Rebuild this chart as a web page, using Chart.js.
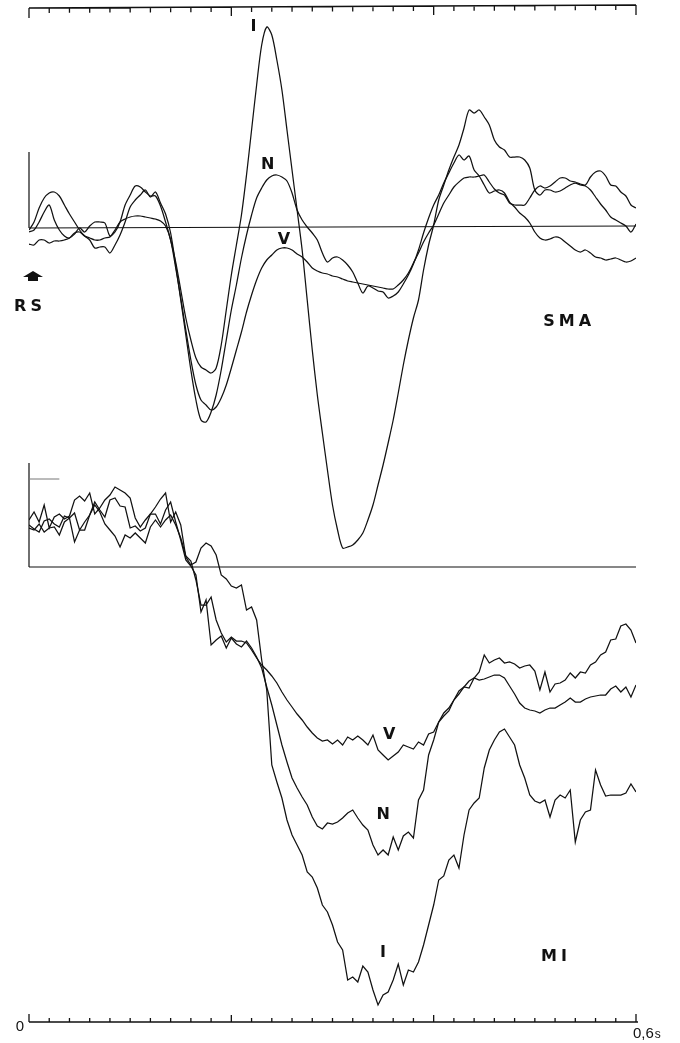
<!DOCTYPE html>
<html>
<head>
<meta charset="utf-8">
<script src="https://cdn.jsdelivr.net/npm/chart.js@4/dist/chart.umd.min.js"></script>
<style>
  html, body { margin: 0; padding: 0; background: #fff; }
  canvas { display: block; }
</style>
</head>
<body>
<canvas id="c" width="680" height="1043" style="width:680px;height:1043px"></canvas>
<script>
// Averaged potentials, 0 to 0.6 s after the response signal (RS), sampled every 5 ms.
// Amplitudes are in arbitrary units relative to each panel's baseline (up = positive).
const SAMPLE_STEP = 0.005;
const timeS = Array.from({ length: 121 }, (_, i) => +(i * SAMPLE_STEP).toFixed(3));

// Supplementary motor area (SMA)
const smaI = [
  -4,-2,6,16,23,8,-2,-8,-10,-6,
  0,-4,2,6,6,5,-8,-4,6,23,
  33,42,41,36,32,32,22,6,-12,-34,
  -62,-90,-112,-130,-139,-142,-145,-140,-117,-82,
  -47,-17,13,53,98,143,183,201,193,168,
  138,98,58,18,-22,-72,-122,-167,-205,-242,
  -277,-302,-320,-319,-317,-312,-305,-292,-277,-257,
  -237,-215,-192,-165,-137,-112,-90,-72,-42,-17,
  3,28,43,58,71,83,100,118,115,118,
  111,103,88,81,78,71,71,71,68,60,
  38,33,38,38,36,37,40,43,45,43,
  42,38,31,24,18,11,8,5,2,-4,
  4
];
const smaN = [
  -2,6,20,30,35,36,32,23,14,6,
  -2,-8,-12,-20,-19,-19,-25,-17,-7,6,
  21,28,33,38,31,36,25,14,-5,-37,
  -72,-107,-142,-172,-192,-194,-184,-167,-142,-112,
  -82,-57,-30,-7,13,30,40,48,52,53,
  51,47,35,18,8,1,-5,-12,-25,-34,
  -30,-29,-32,-37,-44,-55,-65,-58,-60,-63,
  -64,-70,-68,-64,-56,-47,-36,-22,-5,10,
  23,33,45,55,65,73,68,72,58,52,
  43,35,37,38,35,26,21,15,11,5,
  -4,-10,-12,-11,-9,-10,-14,-18,-22,-24,
  -22,-25,-29,-30,-32,-31,-30,-32,-34,-33,
  -30
];
const smaV = [
  -16,-17,-12,-12,-15,-13,-13,-12,-10,-5,
  -4,-8,-10,-12,-12,-10,-9,-2,6,9,
  11,12,12,11,10,9,7,2,-12,-40,
  -70,-102,-132,-157,-172,-177,-182,-179,-170,-157,
  -140,-122,-104,-84,-67,-52,-40,-32,-27,-22,
  -20,-20,-22,-26,-29,-34,-40,-43,-45,-46,
  -48,-49,-51,-53,-54,-55,-56,-57,-58,-59,
  -60,-61,-61,-57,-52,-45,-35,-25,-14,-5,
  3,14,25,33,41,46,50,51,51,52,
  53,46,39,35,33,25,23,23,23,30,
  38,42,40,42,46,50,50,47,46,44,
  43,51,56,57,52,43,42,36,32,23,
  20
];

// Primary motor cortex (MI)
const miI = [
  47,55,45,62,39,50,53,48,51,67,
  71,66,74,53,59,67,72,80,77,74,
  69,49,40,47,53,60,68,74,45,55,
  42,10,2,5,19,24,21,12,-8,-12,
  -19,-21,-18,-43,-40,-53,-93,-123,-198,-215,
  -231,-253,-268,-278,-288,-305,-310,-321,-338,-345,
  -358,-375,-383,-413,-410,-415,-399,-405,-423,-438,
  -428,-425,-413,-397,-418,-403,-405,-395,-378,-358,
  -338,-313,-309,-293,-288,-301,-268,-243,-236,-231,
  -201,-183,-173,-165,-162,-170,-178,-198,-211,-228,
  -234,-236,-233,-250,-233,-228,-231,-223,-275,-253,
  -245,-243,-203,-218,-229,-228,-228,-228,-226,-217,
  -225
];
const miN = [
  42,38,35,46,48,43,40,51,49,54,
  37,45,52,65,57,50,67,69,61,60,
  39,41,36,39,53,53,43,57,65,45,
  27,7,1,-8,-45,-33,-78,-73,-69,-81,
  -71,-77,-80,-74,-81,-90,-101,-120,-138,-158,
  -178,-195,-211,-221,-230,-238,-250,-259,-262,-256,
  -257,-255,-251,-246,-243,-251,-258,-263,-278,-288,
  -283,-288,-270,-283,-269,-265,-271,-233,-223,-188,
  -173,-155,-146,-141,-133,-124,-120,-121,-111,-105,
  -88,-96,-93,-91,-96,-95,-97,-101,-99,-98,
  -104,-123,-105,-125,-117,-116,-113,-106,-111,-105,
  -106,-98,-95,-88,-85,-73,-72,-59,-57,-63,
  -76
];
const miV = [
  39,37,43,35,39,40,32,45,49,25,
  37,37,52,62,55,43,37,31,20,32,
  29,34,29,24,40,47,40,47,52,42,
  29,11,6,-13,-38,-38,-30,-53,-66,-75,
  -70,-74,-74,-76,-83,-91,-98,-103,-109,-116,
  -125,-133,-140,-147,-153,-160,-166,-171,-174,-173,
  -177,-173,-178,-170,-173,-169,-173,-178,-168,-183,
  -188,-193,-189,-185,-178,-180,-182,-175,-178,-167,
  -165,-155,-149,-144,-133,-127,-120,-114,-111,-113,
  -112,-110,-108,-108,-111,-119,-127,-136,-141,-143,
  -144,-146,-143,-141,-141,-138,-135,-131,-135,-135,
  -132,-130,-129,-128,-128,-122,-119,-125,-120,-130,
  -118
];

// Time ruler: minor ticks every 20 ms, labelled ends
const tickStep = 0.02;
const majorTicks = [0.2, 0.4];
const axisLabels = { start: '0', end: '0,6', unit: 's' };

// Calibration bars (height in amplitude units)
const smaCalibration = 76;
const miCalibration = 104;
const miCalibrationMark = 88;

// Text placed in data coordinates of each panel
const smaText = [
  { t: 0.222, v: 201, text: 'I' },
  { t: 0.236, v: 63, text: 'N' },
  { t: 0.252, v: -12, text: 'V' },
  { t: 0.532, v: -94, text: 'SMA' },
  { t: -0.001, v: -79, text: 'RS' }
];
const miText = [
  { t: 0.356, v: -168, text: 'V' },
  { t: 0.350, v: -248, text: 'N' },
  { t: 0.350, v: -386, text: 'I' },
  { t: 0.519, v: -390, text: 'MI' }
];

const pts = arr => arr.map((v, i) => ({ x: timeS[i], y: v }));
const INK = '#111';
const LABEL_FONT = 'bold 16px "DejaVu Sans", "Liberation Sans", sans-serif';

function trace(label, values, axis, tension) {
  return {
    label, data: pts(values), yAxisID: axis,
    borderColor: INK, borderWidth: 1.25, pointRadius: 0,
    tension: tension, fill: false
  };
}

const decorations = {
  id: 'decorations',
  beforeDatasetsDraw(chart) {
    const { ctx, chartArea: a, scales } = chart;
    const x = scales.x, ys = scales.ySMA, ym = scales.yMI;
    ctx.save();
    ctx.strokeStyle = INK;
    ctx.lineWidth = 1.3;
    ctx.lineCap = 'butt';
    const nTicks = Math.round(0.6 / tickStep);

    // top ruler (ticks hang downward)
    const topY0 = a.top, topY1 = a.top - 3;
    ctx.beginPath();
    ctx.moveTo(x.getPixelForValue(0), topY0);
    ctx.lineTo(x.getPixelForValue(0.6), topY1);
    for (let k = 0; k <= nTicks; k++) {
      const t = k * tickStep;
      const px = x.getPixelForValue(t);
      const py = topY0 + (topY1 - topY0) * (t / 0.6);
      const isEnd = k === 0 || k === nTicks;
      const isMajor = majorTicks.some(m => Math.abs(m - t) < 1e-6);
      const len = isEnd ? 10 : isMajor ? 9 : 5;
      ctx.moveTo(px, py);
      ctx.lineTo(px, py + len);
    }
    ctx.stroke();

    // bottom ruler (ticks rise upward)
    const botY = a.bottom;
    ctx.beginPath();
    ctx.moveTo(x.getPixelForValue(0), botY);
    ctx.lineTo(x.getPixelForValue(0.6) + 2, botY);
    for (let k = 0; k <= nTicks; k++) {
      const t = k * tickStep;
      const px = x.getPixelForValue(t);
      const isEnd = k === 0 || k === nTicks;
      const isMajor = majorTicks.some(m => Math.abs(m - t) < 1e-6);
      const len = isEnd ? 8 : isMajor ? 7 : 4;
      ctx.moveTo(px, botY);
      ctx.lineTo(px, botY - len);
    }
    ctx.stroke();

    // baselines and calibration bars
    ctx.lineWidth = 1.2;
    ctx.beginPath();
    ctx.moveTo(x.getPixelForValue(0), ys.getPixelForValue(0));
    ctx.lineTo(x.getPixelForValue(0.6), ys.getPixelForValue(0) - 2);
    ctx.moveTo(x.getPixelForValue(0), ys.getPixelForValue(0));
    ctx.lineTo(x.getPixelForValue(0), ys.getPixelForValue(smaCalibration));
    ctx.moveTo(x.getPixelForValue(0), ym.getPixelForValue(0));
    ctx.lineTo(x.getPixelForValue(0.6), ym.getPixelForValue(0));
    ctx.moveTo(x.getPixelForValue(0), ym.getPixelForValue(0));
    ctx.lineTo(x.getPixelForValue(0), ym.getPixelForValue(miCalibration));
    ctx.stroke();
    ctx.strokeStyle = '#777';
    ctx.lineWidth = 1;
    ctx.beginPath();
    ctx.moveTo(x.getPixelForValue(0), ym.getPixelForValue(miCalibrationMark));
    ctx.lineTo(x.getPixelForValue(0.03), ym.getPixelForValue(miCalibrationMark));
    ctx.stroke();
    ctx.restore();
  },
  afterDatasetsDraw(chart) {
    const { ctx, chartArea: a, scales } = chart;
    const x = scales.x, ys = scales.ySMA, ym = scales.yMI;
    ctx.save();
    ctx.fillStyle = INK;
    ctx.textAlign = 'center';
    ctx.textBaseline = 'middle';
    ctx.font = LABEL_FONT;
    const draw = (items, yScale) => items.forEach(o => {
      const spaced = o.text.length > 1;
      ctx.letterSpacing = spaced ? '4px' : '0px';
      const px = x.getPixelForValue(o.t);
      ctx.fillText(o.text, px + (spaced ? 2 : 0), yScale.getPixelForValue(o.v));
    });
    draw(smaText, ys);
    draw(miText, ym);
    ctx.letterSpacing = '0px';

    // response-signal marker above "RS"
    const ax = 33, ay = ys.getPixelForValue(-48);
    ctx.beginPath();
    ctx.moveTo(ax, ay - 5);
    ctx.lineTo(ax + 10, ay + 1);
    ctx.lineTo(ax + 5, ay + 1);
    ctx.lineTo(ax + 5, ay + 5);
    ctx.lineTo(ax - 5, ay + 5);
    ctx.lineTo(ax - 5, ay + 1);
    ctx.lineTo(ax - 10, ay + 1);
    ctx.closePath();
    ctx.fill();

    // time ruler labels
    ctx.font = '15px "Liberation Sans", Arial, sans-serif';
    ctx.textAlign = 'right';
    ctx.fillText(axisLabels.start, x.getPixelForValue(0) - 5, a.bottom + 5);
    ctx.textAlign = 'left';
    const ex = x.getPixelForValue(0.6) - 3, ey = a.bottom + 12;
    ctx.fillText(axisLabels.end, ex, ey);
    const w = ctx.measureText(axisLabels.end).width;
    ctx.font = '12px "Liberation Sans", Arial, sans-serif';
    ctx.fillText(axisLabels.unit, ex + w + 1, ey + 1);
    ctx.restore();
  }
};

new Chart(document.getElementById('c'), {
  type: 'line',
  data: {
    datasets: [
      trace('SMA I', smaI, 'ySMA', 0.3),
      trace('SMA N', smaN, 'ySMA', 0.3),
      trace('SMA V', smaV, 'ySMA', 0.3),
      trace('MI I', miI, 'yMI', 0),
      trace('MI N', miN, 'yMI', 0),
      trace('MI V', miV, 'yMI', 0)
    ]
  },
  options: {
    responsive: false,
    animation: false,
    events: [],
    layout: { padding: { left: 29, right: 44, top: 8, bottom: 21 } },
    plugins: { legend: { display: false }, tooltip: { enabled: false } },
    scales: {
      x: { type: 'linear', min: 0, max: 0.6, display: false },
      ySMA: { type: 'linear', min: -794, max: 220, display: false },
      yMI: { type: 'linear', min: -455, max: 559, display: false }
    }
  },
  plugins: [decorations]
});
</script>
</body>
</html>
